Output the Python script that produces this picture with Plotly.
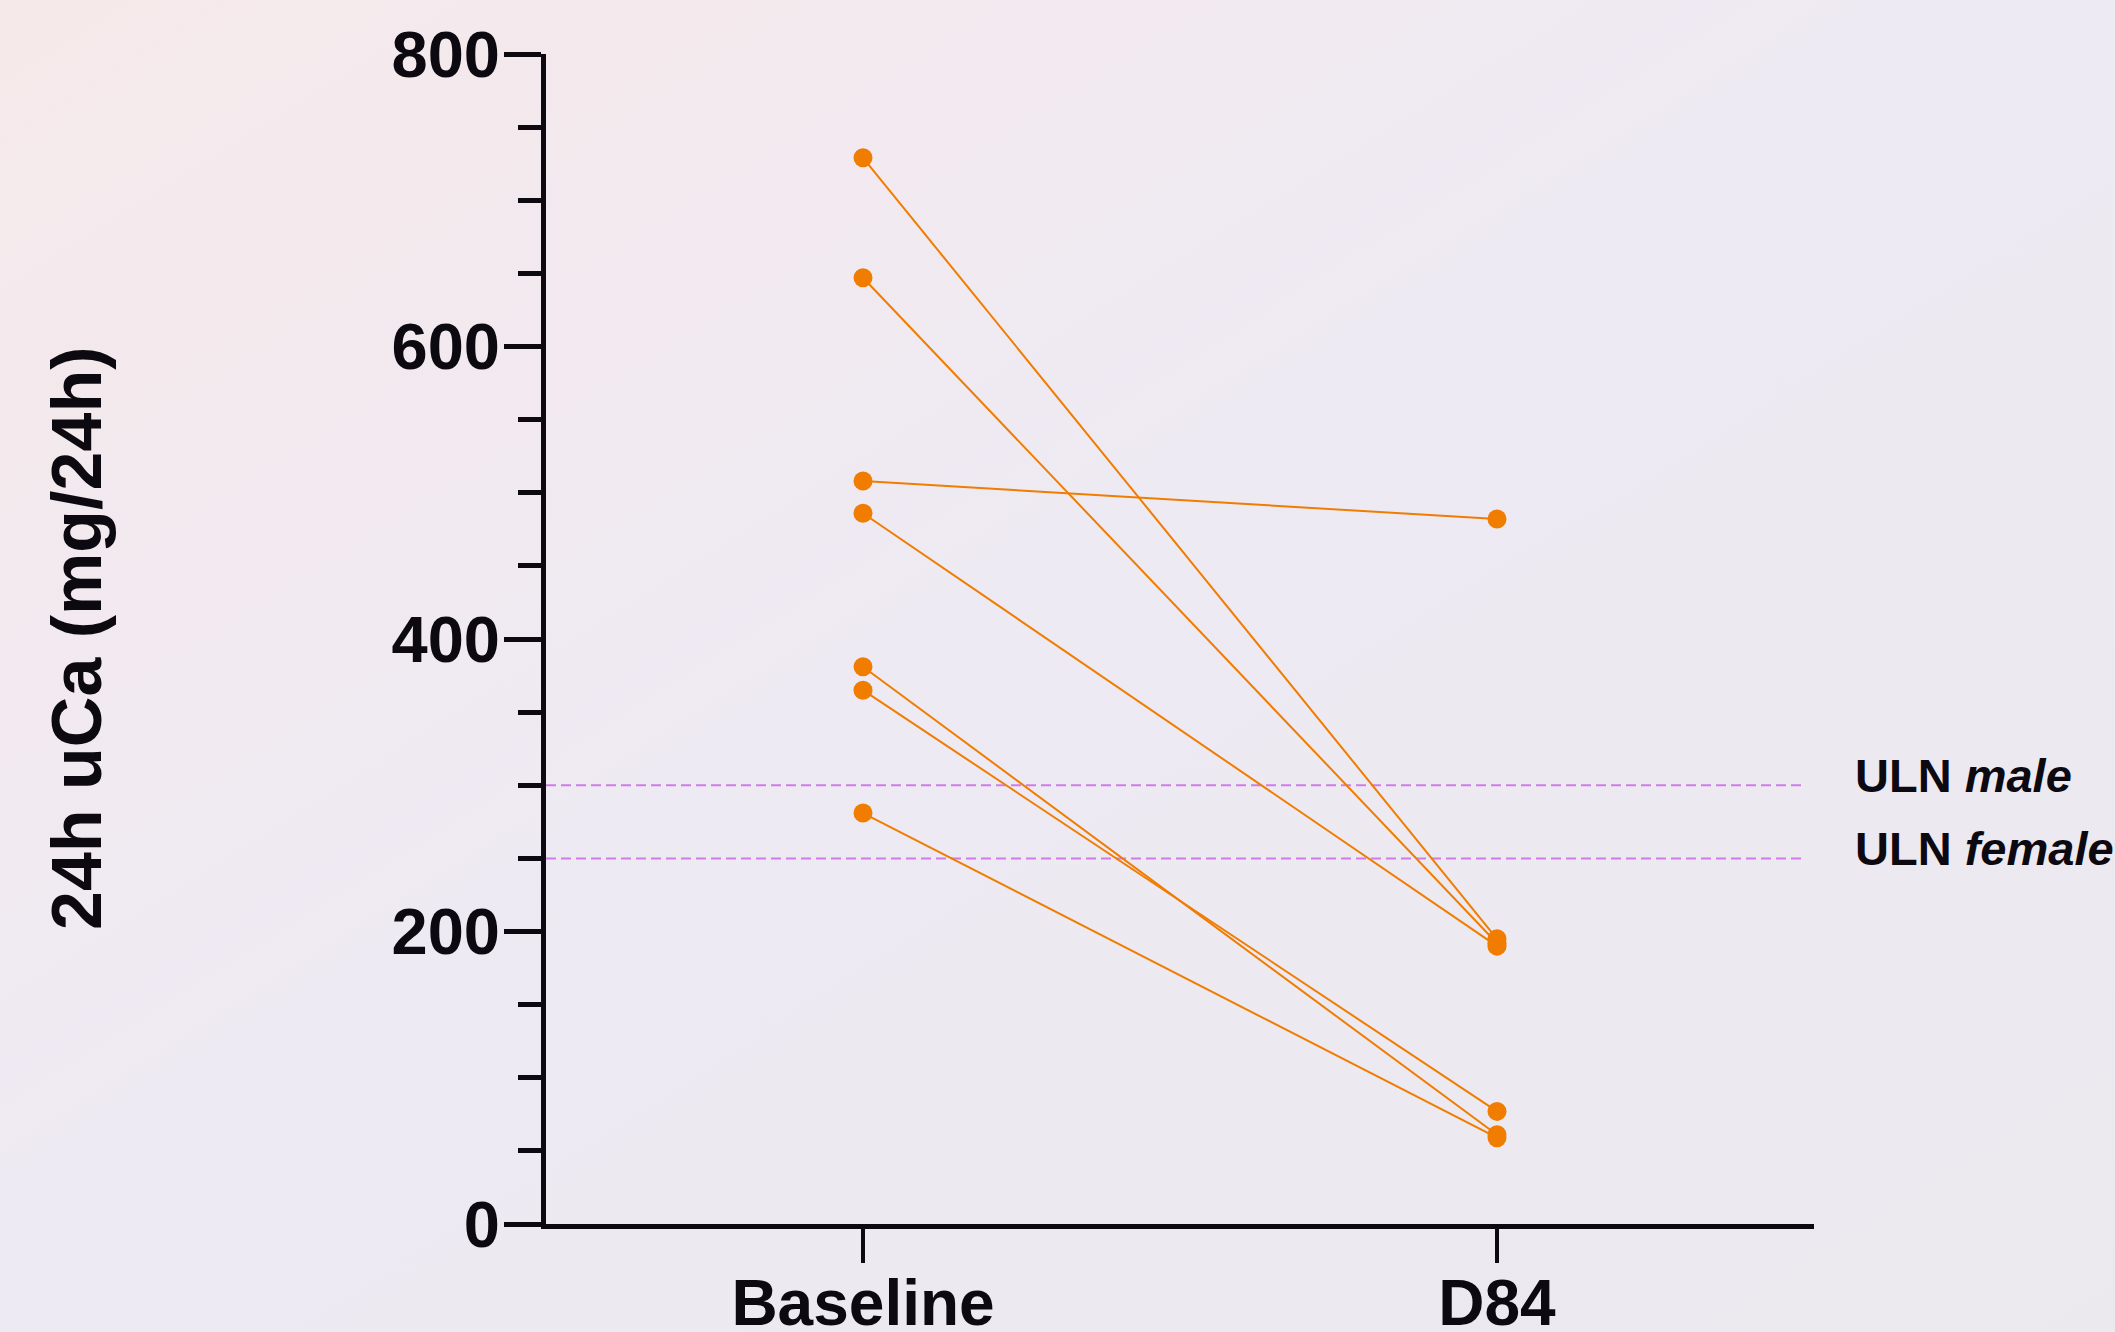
import base64
import plotly.graph_objects as go

# ---- data ----
timepoints = ["Baseline", "D84"]
baseline_uca = [729, 647, 508, 486, 381, 365, 281]
d84_uca = [195, 192, 482, 190, 61, 77, 59]
uln_labels = ["ULN <i>male</i>", "ULN <i>female</i>"]
uln_values = [300, 250]
y_ticks = [0, 200, 400, 600, 800]
y_title = "24h uCa (mg/24h)"

ORANGE = "#f07c00"
INK = "#0c0a10"
VIOLET = "#d07ce8"
FONT = "Liberation Sans, Arial, sans-serif"

W, H = 2115, 1332
L, R, T, B = 546, 301, 54, 108
PW, PH = W - L - R, H - T - B

fig = go.Figure()

xpos = list(range(len(timepoints)))
for b, d in zip(baseline_uca, d84_uca):
    fig.add_trace(go.Scatter(
        x=xpos, y=[b, d], mode="lines+markers",
        line=dict(color=ORANGE, width=2),
        marker=dict(color=ORANGE, size=19, line=dict(width=0)),
        showlegend=False, hoverinfo="y",
    ))

# reference lines (ULN)
for lab, v in zip(uln_labels, uln_values):
    fig.add_shape(type="line", xref="paper", yref="y", x0=0, x1=(1805 - L) / PW,
                  y0=v, y1=v, line=dict(color=VIOLET, width=2, dash="10px,5px"),
                  layer="below")
    fig.add_annotation(xref="paper", yref="y", x=(1853 - L) / PW, y=v,
                       xanchor="left", yanchor="middle", yshift=10, showarrow=False,
                       text=lab, font=dict(family=FONT, size=47, color=INK, weight="bold"))

# y-axis title
fig.add_annotation(xref="paper", yref="paper", x=(77 - L) / PW, y=0.5,
                   xanchor="center", yanchor="middle", textangle=-90, showarrow=False,
                   text=y_title, font=dict(family=FONT, size=70, color=INK, weight="bold"))

# gradient background as SVG
svg = f'''<svg xmlns="http://www.w3.org/2000/svg" width="{W}" height="{H}" viewBox="0 0 {W} {H}">
<defs><linearGradient id="g" x1="0" y1="0" x2="1" y2="1">
<stop offset="0" stop-color="#f6e9ea"/>
<stop offset="0.45" stop-color="#eeeaf3"/>
<stop offset="1" stop-color="#ebe8ee"/>
</linearGradient></defs>
<rect width="{W}" height="{H}" fill="url(#g)"/></svg>'''
src = "data:image/svg+xml;base64," + base64.b64encode(svg.encode()).decode()
fig.add_layout_image(dict(source=src, xref="paper", yref="paper",
                          x=-L / PW, y=1 + T / PH, sizex=W / PW, sizey=H / PH,
                          xanchor="left", yanchor="top", sizing="stretch", layer="below"))

fig.update_layout(
    width=W, height=H,
    margin=dict(l=L, r=R, t=T, b=B, autoexpand=False),
    paper_bgcolor="#efebf2", plot_bgcolor="rgba(0,0,0,0)",
    font=dict(family=FONT, color=INK),
    xaxis=dict(
        range=[-0.5, 1.5], tickvals=xpos, ticktext=timepoints,
        showgrid=False, zeroline=False, showline=True, linecolor=INK, linewidth=5,
        ticks="outside", ticklen=34, tickwidth=4, tickcolor=INK,
        tickfont=dict(family=FONT, size=64, color=INK, weight="bold"),
        ticklabelstandoff=-15,
    ),
    yaxis=dict(
        range=[0, 800], tickvals=y_ticks,
        showgrid=False, zeroline=False, showline=True, linecolor=INK, linewidth=5,
        ticks="outside", ticklen=37, tickwidth=5, tickcolor=INK,
        tickfont=dict(family=FONT, size=65, color=INK, weight="bold"),
        ticklabelstandoff=-9,
        minor=dict(dtick=50, ticks="outside", ticklen=23, tickwidth=5, tickcolor=INK, showgrid=False),
    ),
)

fig.write_html("out.html", config={"displayModeBar": False},
               post_script="document.body.style.margin='0';document.body.style.overflow='hidden';")
